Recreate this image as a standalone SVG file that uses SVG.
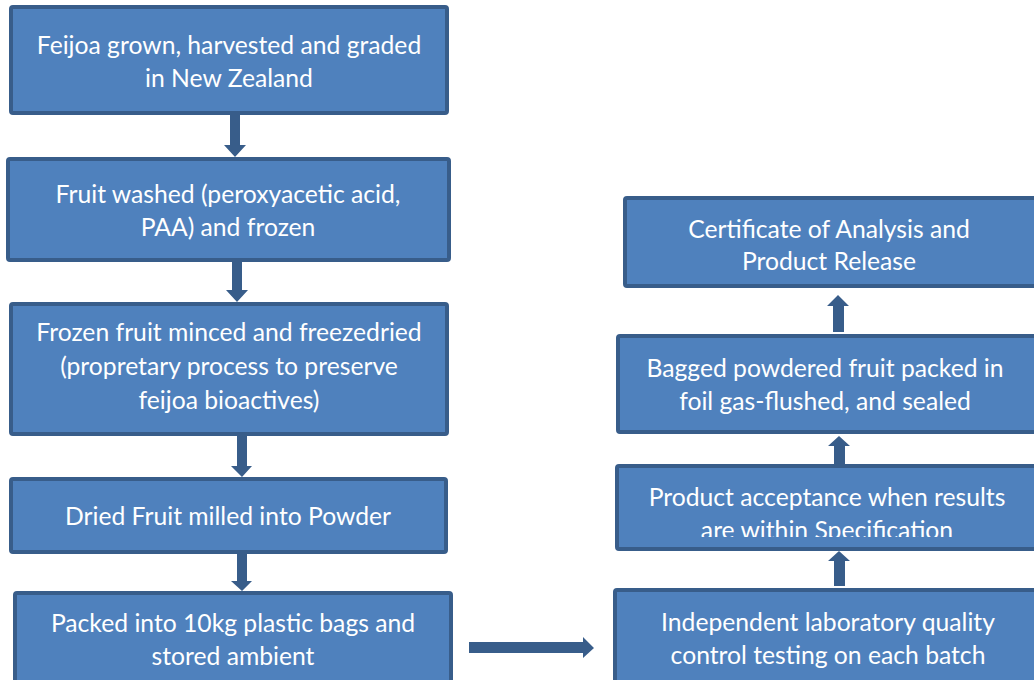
<svg xmlns="http://www.w3.org/2000/svg" width="1034" height="680" viewBox="0 0 1034 680">
<defs>
<style>
.box{fill:#4F81BD;stroke:#385D8A;stroke-width:4;}
.t{font-family:Lato,"Open Sans","Liberation Sans",sans-serif;font-size:24.7px;fill:#FFFFFF;text-anchor:middle;}
.arr{fill:#385D8A;}
</style>
<clipPath id="clipPA"><rect x="616" y="465" width="420" height="72"/></clipPath>
</defs>
<rect width="1034" height="680" fill="#FFFFFF"/>
<g id="connectors">
<polygon class="arr" points="230,115 240,115 240,145 246,145 235,157 224,145 230,145"/>
<polygon class="arr" points="232,261 242,261 242,290 248,290 237,302 226,290 232,290"/>
<polygon class="arr" points="237,435 247,435 247,466 252,466 242,477 231,466 237,466"/>
<polygon class="arr" points="237,553 247,553 247,581 252,581 242,591 231,581 237,581"/>
<polygon class="arr" points="469,642 583,642 583,637 594,648 583,658 583,653 469,653"/>
<polygon class="arr" points="834,586 845,586 845,561 850,561 839,551 828,561 834,561"/>
<polygon class="arr" points="834,472 845,472 845,446 850,446 839,436 828,446 834,446"/>
<polygon class="arr" points="833,332 844,332 844,306 849,306 838,295 827,306 833,306"/>
</g>
<g id="n1">
<rect class="box" x="11" y="7" width="436" height="106" rx="2"/>
<text class="t" x="229" y="54">Feijoa grown, harvested and graded</text>
<text class="t" x="229" y="87">in New Zealand</text>
</g>
<g id="n2">
<rect class="box" x="8" y="159" width="441" height="101" rx="2"/>
<text class="t" x="228" y="203">Fruit washed (peroxyacetic acid,</text>
<text class="t" x="228" y="236">PAA) and frozen</text>
</g>
<g id="n3">
<rect class="box" x="11" y="304" width="436" height="130" rx="2"/>
<text class="t" x="229" y="341">Frozen fruit minced and freezedried</text>
<text class="t" x="229" y="375">(propretary process to preserve</text>
<text class="t" x="229" y="409">feijoa bioactives)</text>
</g>
<g id="n4">
<rect class="box" x="11" y="479" width="435" height="73" rx="2"/>
<text class="t" x="228" y="525">Dried Fruit milled into Powder</text>
</g>
<g id="n5">
<rect class="box" x="15" y="593" width="436" height="92" rx="2"/>
<text class="t" x="233" y="632">Packed into 10kg plastic bags and</text>
<text class="t" x="233" y="665">stored ambient</text>
</g>
<g id="n6">
<rect class="box" x="625" y="198" width="415" height="88" rx="2"/>
<text class="t" x="829" y="238">Certificate of Analysis and</text>
<text class="t" x="829" y="270">Product Release</text>
</g>
<g id="n7">
<rect class="box" x="618" y="336" width="422" height="96" rx="2"/>
<text class="t" x="825" y="377">Bagged powdered fruit packed in</text>
<text class="t" x="825" y="410">foil gas-flushed, and sealed</text>
</g>
<g id="n8">
<rect class="box" x="617" y="466" width="423" height="83" rx="2"/>
<g clip-path="url(#clipPA)">
<text class="t" x="827" y="506">Product acceptance when results</text>
<text class="t" x="827" y="539">are within Specification</text>
</g>
</g>
<g id="n9">
<rect class="box" x="615" y="590" width="425" height="95" rx="2"/>
<text class="t" x="828" y="631">Independent laboratory quality</text>
<text class="t" x="828" y="664">control testing on each batch</text>
</g>
</svg>
